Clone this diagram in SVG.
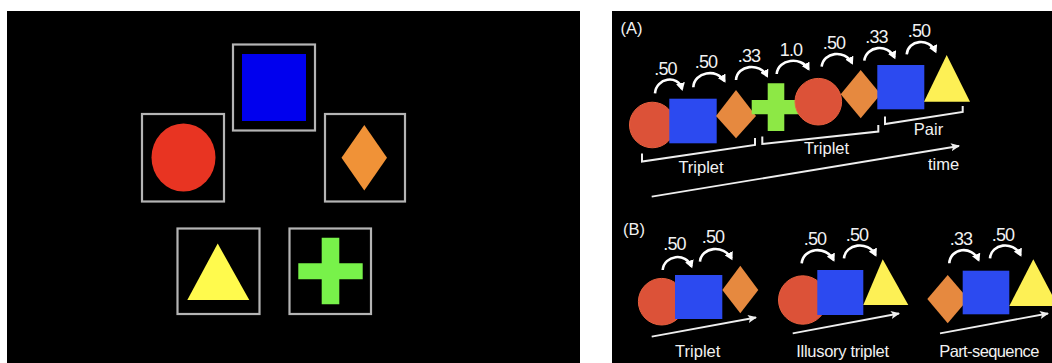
<svg xmlns="http://www.w3.org/2000/svg" width="1052" height="363" viewBox="0 0 1052 363">
<defs>
<style>
.frame{fill:none;stroke:#b4b4b4;stroke-width:2.2}
.lbl{font-family:"Liberation Sans",Arial,sans-serif;fill:#f2f2f2;font-size:16.5px;text-anchor:middle}
.num{font-size:18px;letter-spacing:-0.8px}
.arc{fill:none;stroke:#fff;stroke-width:2.6;marker-end:url(#ah)}
.brk{fill:none;stroke:#eee;stroke-width:2}
.tl{fill:none;stroke:#eee;stroke-width:1.8;marker-end:url(#ta)}
.red{fill:#dc5238;stroke:#e8603e;stroke-width:1}
.blue{fill:#2c4af0}
.org{fill:#e6893f}
.grn{fill:#8de845}
.yel{fill:#fdf055}
</style>
<marker id="ah" markerWidth="9" markerHeight="9" refX="6" refY="4.5" orient="auto" markerUnits="userSpaceOnUse">
<path d="M0,0 L8,4.5 L0,9 Z" fill="#fff"/>
</marker>
<marker id="ta" markerWidth="10" markerHeight="10" refX="8" refY="5" orient="auto" markerUnits="userSpaceOnUse">
<path d="M0,1 L9,5 L0,9 L2,5 Z" fill="#eee"/>
</marker>
</defs>
<rect width="1052" height="363" fill="#fff"/>
<rect x="7" y="11" width="573" height="352" fill="#000"/>
<rect x="612" y="11" width="440" height="352" fill="#000"/>

<g id="left-panel">
<g id="n-square"><rect class="frame" x="233" y="44.5" width="82" height="86"/><rect x="242" y="54" width="64" height="67" fill="#0000ee"/></g>
<g id="n-circle"><rect class="frame" x="142" y="114" width="82" height="87.5"/><ellipse cx="183.5" cy="157.5" rx="32" ry="34" fill="#e83422"/></g>
<g id="n-diamond"><rect class="frame" x="325" y="114" width="80" height="87.5"/><path d="M364.3,125 L387,157.7 L364.3,190.5 L341.5,157.7 Z" fill="#f09237"/></g>
<g id="n-triangle"><rect class="frame" x="177.5" y="228.5" width="82" height="85.5"/><path d="M217.7,243.5 L249.3,300 L187.3,300 Z" fill="#fffa4d"/></g>
<g id="n-cross"><rect class="frame" x="289.5" y="228.5" width="81.5" height="85.5"/><path d="M321.7,237.7 H339.3 V263.3 H362.7 V279.3 H339.3 V304.3 H321.7 V279.3 H298.3 V263.3 H321.7 Z" fill="#78f24a"/></g>
</g>

<g id="panel-a">
<text class="lbl" x="631.5" y="34" font-size="17">(A)</text>
<g id="a-circle1"><circle class="red" cx="652.3" cy="125" r="22.8"/></g>
<g id="a-square1"><rect class="blue" x="669.3" y="98.7" width="47.4" height="44.6"/></g>
<g id="a-diamond1"><path class="org" d="M736,90 L756,116 L736,138.3 L716,116 Z"/></g>
<g id="a-cross"><path class="grn" d="M767.7,83.3 H784.3 V100 H801 V114.3 H784.3 V131 H767.7 V114.3 H751.7 V100 H767.7 Z"/></g>
<g id="a-circle2"><circle class="red" cx="818.3" cy="101.7" r="23.3"/></g>
<g id="a-diamond2"><path class="org" d="M860.7,70 L880.7,94.3 L860.7,118.3 L840.7,94.3 Z"/></g>
<g id="a-square2"><rect class="blue" x="877.3" y="65" width="47" height="44.3"/></g>
<g id="a-triangle"><path class="yel" d="M946.7,55 L970,101.7 L924,101.7 Z"/></g>

<text class="lbl num" x="665.5" y="75">.50</text>
<text class="lbl num" x="706" y="68">.50</text>
<text class="lbl num" x="749" y="61.5">.33</text>
<text class="lbl num" x="791" y="55.5">1.0</text>
<text class="lbl num" x="834" y="49">.50</text>
<text class="lbl num" x="876.5" y="43">.33</text>
<text class="lbl num" x="919" y="37">.50</text>

<text class="lbl" x="701" y="173">Triplet</text>
<text class="lbl" x="826.5" y="154">Triplet</text>
<text class="lbl" x="928.5" y="135">Pair</text>
<text class="lbl" x="943.5" y="170">time</text>
</g>

<g id="panel-b">
<text class="lbl" x="634" y="235" font-size="17">(B)</text>
<g id="b1-circle"><circle class="red" cx="661.7" cy="301.7" r="23.3"/></g>
<g id="b1-square"><rect class="blue" x="675" y="275" width="47.3" height="44"/></g>
<g id="b1-diamond"><path class="org" d="M740.3,265.7 L758.3,290 L740.3,313.3 L722.3,290 Z"/></g>
<g id="b2-circle"><circle class="red" cx="802.7" cy="300" r="24.2"/></g>
<g id="b2-square"><rect class="blue" x="817.3" y="270" width="46" height="45"/></g>
<g id="b2-triangle"><path class="yel" d="M882.7,259.3 L908.3,305 L863.3,305 Z"/></g>
<g id="b3-diamond"><path class="org" d="M947.7,275 L968.3,299 L947.7,323.3 L927.3,299 Z"/></g>
<g id="b3-square"><rect class="blue" x="962.7" y="270.7" width="46.6" height="43.6"/></g>
<g id="b3-triangle"><path class="yel" d="M1033.3,259.3 L1058,306 L1009.3,306 Z"/></g>

<text class="lbl num" x="674.5" y="250">.50</text>
<text class="lbl num" x="713" y="242.7">.50</text>
<text class="lbl num" x="815" y="245">.50</text>
<text class="lbl num" x="857" y="240.7">.50</text>
<text class="lbl num" x="961" y="245">.33</text>
<text class="lbl num" x="1003" y="240.7">.50</text>

<text class="lbl" x="697.7" y="356.7">Triplet</text>
<text class="lbl" x="842.5" y="356.7" letter-spacing="-0.3">Illusory triplet</text>
<text class="lbl" x="989" y="356.7" letter-spacing="-0.6">Part-sequence</text>
</g>

<g id="connectors">
<path class="arc" d="M655,93.3 C656,78 678,74 682,89"/>
<path class="arc" d="M693.3,87.3 C694,72 717,68 724.5,81"/>
<path class="arc" d="M736,80 C737,65 760,62 767,76"/>
<path class="arc" d="M776.7,74 C778,59 801,56 808.5,69"/>
<path class="arc" d="M821.7,66.7 C823,52 845,49 852,63"/>
<path class="arc" d="M864.3,60.7 C866,46 888,43 894.5,57.5"/>
<path class="arc" d="M906.7,54.3 C908,40 929,37 935.5,51.5"/>

<path class="arc" d="M662.7,270 C664,255 686,252 691.5,266.5"/>
<path class="arc" d="M700,261.7 C701,247 724,244 731.5,258.5"/>
<path class="arc" d="M801.7,263.3 C803,248 826,245 833.5,260"/>
<path class="arc" d="M844,258.3 C845,244 868,240 875.5,255"/>
<path class="arc" d="M949.3,263.3 C950,248 972,245 978.5,260"/>
<path class="arc" d="M990,258.3 C991,244 1013,240 1020.5,255"/>

<path class="brk" d="M642,153.5 V161.5 L755,145 V138"/>
<path class="brk" d="M762.3,136.5 V144 L878.3,131.5 V125"/>
<path class="brk" d="M885,116.5 V124 L962.7,112 V106"/>
<path class="tl" d="M651.7,196.7 L959,146"/>
<path class="tl" d="M651.7,336.7 L756,317.5"/>
<path class="tl" d="M792.7,333.3 L899,313.5"/>
<path class="tl" d="M940,333.3 L1048,313.5"/>
</g>
</svg>
